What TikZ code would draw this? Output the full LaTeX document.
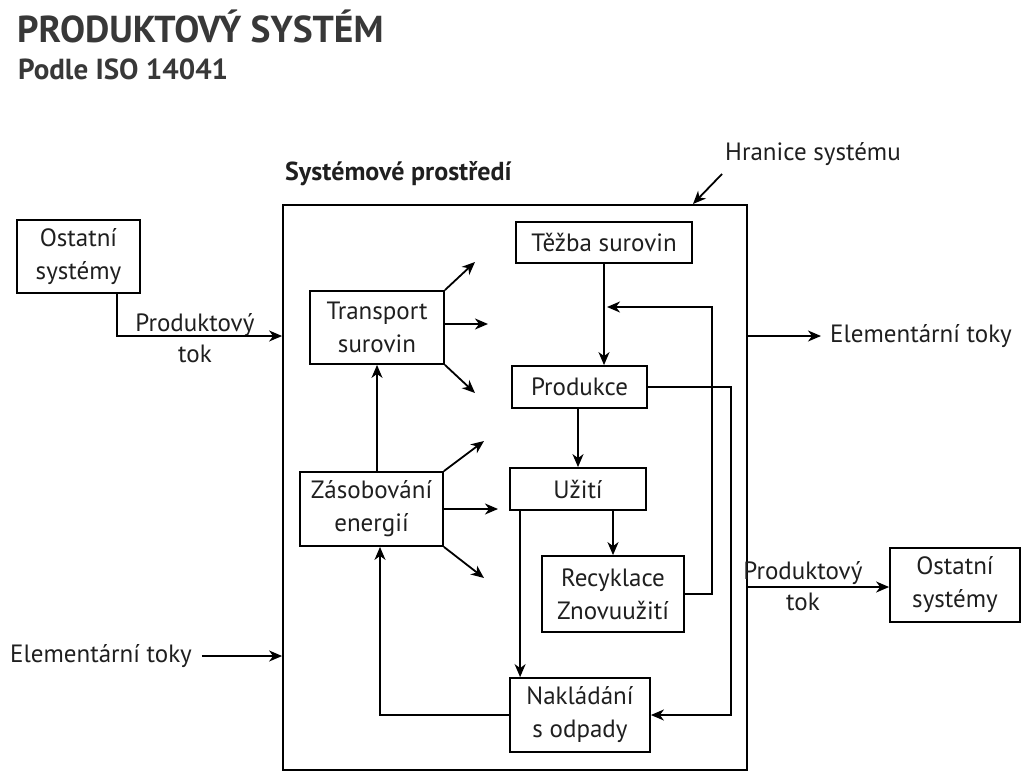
\documentclass[tikz,border=0pt]{standalone}
\usepackage{fontspec}
\setmainfont{PT Sans}
\usetikzlibrary{positioning,arrows.meta}

\tikzset{
    box/.style={draw,line width=1.8pt,align=center,inner sep=0pt,text=black!88,font=\fontsize{25}{33}\selectfont},
    flow/.style={line width=1.8pt,-{Stealth[length=13pt,width=11pt,inset=4pt]}},
    lbl/.style={align=center,inner sep=0pt,text=black!88,font=\fontsize{25}{31}\selectfont},
}

\begin{document}
\begin{tikzpicture}[x=1pt,y=-1pt]
    \useasboundingbox (0,0) rectangle (1024,776);
    \fill[white] (0,0) rectangle (1024,776);

    % titles
    \node [anchor=base west,inner sep=0pt,text=black!78,font=\bfseries\fontsize{37.5}{40}\selectfont] (title) at (17,42) {PRODUKTOVÝ SYSTÉM};
    \node [anchor=base west,inner sep=0pt,text=black!78,font=\bfseries\fontsize{29}{30}\selectfont] (subtitle) at (18,79) {Podle ISO 14041};

    % system boundary
    \node [draw,line width=1.8pt,minimum width=464pt,minimum height=565pt,inner sep=0pt] (sys) at (515,487.5) {};
    \node [anchor=base west,inner sep=0pt,text=black!88,font=\bfseries\fontsize{26}{28}\selectfont] (env) at (285,180) {Systémové prostředí};
    \node [anchor=base west,inner sep=0pt,text=black!88,font=\fontsize{25}{26}\selectfont] (border) at (725,160) {Hranice systému};
    \coordinate (hrfrom) at (722,174);
    \coordinate (hrto) at (693,204);
    \draw[flow] (hrfrom) -- (hrto);

    % boxes
    \node [box,minimum width=123pt,minimum height=73pt] (os1) at (78.5,256.5) {Ostatní\\systémy};
    \node [box,minimum width=130pt,minimum height=74pt] (os2) at (955,585) {Ostatní\\systémy};
    \node [box,minimum width=134pt,minimum height=73pt] (transport) at (377,327.5) {Transport\\surovin};
    \node [box,minimum width=143pt,minimum height=74pt] (energie) at (371.5,509) {Zásobování\\energií};
    \node [box,minimum width=176pt,minimum height=41pt] (tezba) at (604,242.5) {Těžba surovin};
    \node [box,minimum width=135pt,minimum height=42pt] (produkce) at (579.5,387) {Produkce};
    \node [box,minimum width=136pt,minimum height=42pt] (uziti) at (578,489) {Užití};
    \node [box,minimum width=142pt,minimum height=76pt] (recyklace) at (613,594) {Recyklace\\Znovuužití};
    \node [box,minimum width=140pt,minimum height=74pt] (odpady) at (580,715) {Nakládání\\s odpady};

    % flow labels
    \node [lbl] (tok1) at (195,338) {Produktový\\tok};
    \node [lbl] (tok2) at (803,586) {Produktový\\tok};
    \node [lbl,anchor=west] (elr) at (830,336) {Elementární toky};
    \node [lbl,anchor=west] (ell) at (10,656) {Elementární toky};

    % outer flows
    \draw[flow] ([xshift=-24pt]os1.south east) |- (sys.west |- 0,336);
    \draw[flow] (sys.east |- elr.west) -- ([xshift=-9pt]elr.west);
    \draw[flow] (sys.east |- 0,587) -- (os2.west |- 0,587);
    \draw[flow] ([xshift=10pt]ell.east) -- (sys.west |- ell.east);

    % inner flows
    \draw[flow] (tezba.south) -- (tezba.south |- produkce.north);
    \draw[flow] (uziti.north |- produkce.south) -- (uziti.north);
    \draw[flow] (uziti.south -| recyklace.north) -- (recyklace.north);
    \draw[flow] ([xshift=11pt]uziti.south west) -- ([xshift=11pt]uziti.south west |- odpady.north);
    \coordinate (back) at (607,307);
    \draw[flow] (recyklace.east) -- ++(27,0) |- (back);
    \draw[flow] (produkce.east) -- ++(83,0) |- (odpady.east);
    \draw[flow] (odpady.west) -| ([xshift=8.5pt]energie.south);
    \draw[flow] (transport.south |- energie.north) -- (transport.south);

    % emissions
    \coordinate (t1) at (475,262);
    \coordinate (t2) at (488,324);
    \coordinate (t3) at (475,393);
    \coordinate (e1) at (484,441);
    \coordinate (e2) at (498,509);
    \coordinate (e3) at (484,578);
    \draw[flow] (transport.north east) -- (t1);
    \draw[flow] (transport.east |- t2) -- (t2);
    \draw[flow] (transport.south east) -- (t3);
    \draw[flow] (energie.north east) -- (e1);
    \draw[flow] (energie.east) -- (e2);
    \draw[flow] (energie.south east) -- (e3);
\end{tikzpicture}
\end{document}
